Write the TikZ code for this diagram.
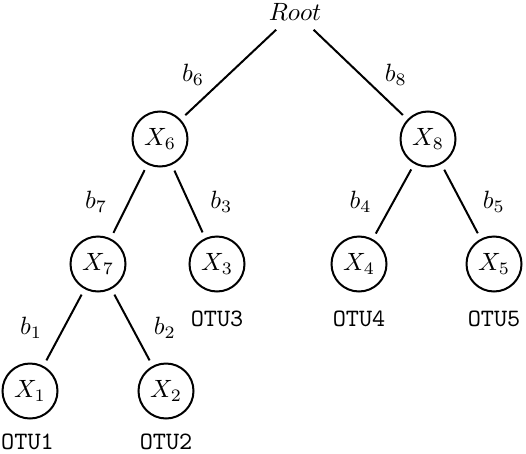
\documentclass[tikz,border=0pt]{standalone}
\usetikzlibrary{positioning}
\begin{document}
\begin{tikzpicture}[x=0.4pt,y=-0.4pt,
		taxon/.style={circle,draw,thick,minimum size=22pt,inner sep=0pt},
		branch/.style={thick,shorten <=2.5pt,shorten >=2.5pt},
		otu/.style={font=\ttfamily,inner sep=1pt}]
		\useasboundingbox (0,0) rectangle (526,453);
		% levels
		\def\ya{12}
		\def\yb{139}
		\def\yc{264}
		\def\yd{391}
		% root and inner nodes
			\node [inner sep=3.5pt] (root) at (295,\ya) {$Root$};
			\node [taxon] (x6) at (160,\yb) {$X_6$};
			\node [taxon] (x8) at (428,\yb) {$X_8$};
			\node [taxon] (x7) at (98,\yc) {$X_7$};
		% leaves
			\node [taxon] (x3) at (217,\yc) {$X_3$};
			\node [taxon] (x4) at (359,\yc) {$X_4$};
			\node [taxon] (x5) at (494,\yc) {$X_5$};
			\node [taxon] (x1) at (30,\yd) {$X_1$};
			\node [taxon] (x2) at (166,\yd) {$X_2$};
		% otu names
			\node [otu,below=4.5pt of x1,xshift=-1pt] (otu1) {OTU1};
			\node [otu,below=4.5pt of x2] (otu2) {OTU2};
			\node [otu,below=6pt of x3] (otu3) {OTU3};
			\node [otu,below=6pt of x4] (otu4) {OTU4};
			\node [otu,below=6pt of x5] (otu5) {OTU5};
		% branches
			\draw [branch,shorten <=0pt] (root) -- (x6) node [midway,left=6pt] {$b_6$};
			\draw [branch,shorten <=0pt] (root) -- (x8) node [midway,right=6pt] {$b_8$};
			\draw [branch] (x6) -- (x7) node [midway,left=5pt] {$b_7$};
			\draw [branch] (x6) -- (x3) node [midway,right=5pt] {$b_3$};
			\draw [branch] (x8) -- (x4) node [midway,left=5pt] {$b_4$};
			\draw [branch] (x8) -- (x5) node [midway,right=5pt] {$b_5$};
			\draw [branch] (x7) -- (x1) node [midway,left=5pt] {$b_1$};
			\draw [branch] (x7) -- (x2) node [midway,right=5pt] {$b_2$};
	\end{tikzpicture}
\end{document}
